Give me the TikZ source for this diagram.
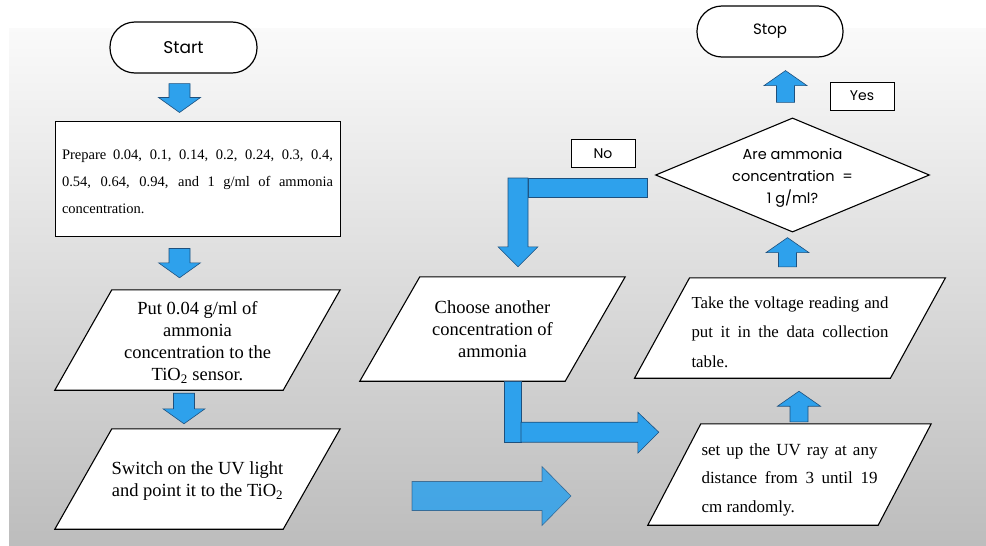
\documentclass[tikz,border=0pt]{standalone}
\usepackage{fontspec}
\setmainfont{Liberation Serif}
\newfontfamily\gothic{Poppins}
\usetikzlibrary{arrows.meta, positioning, shapes.geometric, calc}

\definecolor{arrowblue}{RGB}{46,161,236}
\definecolor{arrowedge}{RGB}{30,80,125}

\pgfdeclarelayer{back}
\pgfdeclarelayer{boxes}
\pgfsetlayers{back,boxes,main}

\tikzset{
  term/.style={draw, line width=1.2pt, fill=white, rounded corners=25pt,
    minimum width=147pt, minimum height=51pt, inner sep=0pt},
  box/.style={draw, line width=1pt, fill=white, inner sep=0pt},
  tag/.style={draw, line width=0.9pt, fill=white, inner sep=0pt,
    minimum width=64pt, minimum height=28pt, font=\gothic\fontsize{14}{16}\selectfont},
  ptext/.style={inner sep=0pt, align=center, font=\fontsize{18.5}{22}\selectfont},
  pline/.style={draw, line width=1.1pt, fill=white, line join=miter},
  blk/.style={fill=arrowblue, draw=arrowedge, line width=0.6pt},
  decide/.style={diamond, draw, line width=1.1pt, fill=white, inner sep=0pt, aspect=2.4,
    minimum width=273pt, minimum height=114pt, align=center,
    font=\gothic\fontsize{14.5}{22}\selectfont}
}

% block arrow down: x, from, to, gap at tail, gap at tip
\newcommand{\dnblk}[5]{%
  \draw[blk] let \p1=(#2.south), \p2=(#3.north) in
    ({#1pt-10.5pt},{\y1-#4pt}) -- ({#1pt+10.5pt},{\y1-#4pt})
    -- ({#1pt+10.5pt},{\y2+#5pt+15pt}) -- ({#1pt+21pt},{\y2+#5pt+15pt})
    -- (#1pt,{\y2+#5pt}) -- ({#1pt-21pt},{\y2+#5pt+15pt})
    -- ({#1pt-10.5pt},{\y2+#5pt+15pt}) -- cycle;}
% block arrow up
\newcommand{\upblk}[5]{%
  \draw[blk] let \p1=(#2.north), \p2=(#3.south) in
    ({#1pt-9pt},{\y1+#4pt}) -- ({#1pt+9pt},{\y1+#4pt})
    -- ({#1pt+9pt},{\y2-#5pt-15pt}) -- ({#1pt+21.5pt},{\y2-#5pt-15pt})
    -- (#1pt,{\y2-#5pt}) -- ({#1pt-21.5pt},{\y2-#5pt-15pt})
    -- ({#1pt-9pt},{\y2-#5pt-15pt}) -- cycle;}
% parallelogram round a text node
\newcommand{\slantbox}[2]{%
  \begin{pgfonlayer}{boxes}
    \draw[pline] ([xshift=#2pt]#1.north west) -- ([xshift=#2pt]#1.north east)
      -- ([xshift=-#2pt]#1.south east) -- ([xshift=-#2pt]#1.south west) -- cycle;
  \end{pgfonlayer}}

\begin{document}
\begin{tikzpicture}[x=1pt,y=-1pt]
  \useasboundingbox (0,0) rectangle (986,546);
  \begin{pgfonlayer}{back}
    \fill[white] (0,0) rectangle (986,546);
    \shade[top color=white!98!black, middle color=white!91!black,
      bottom color=white!74!black] (9,28) rectangle (986,546);
  \end{pgfonlayer}

  % left column
  \node[term, font=\gothic\fontsize{17}{20}\selectfont] (start) at (183.5,47.5) {Start};
  \node[box, minimum width=285pt, minimum height=115pt, text width=271pt, align=justify,
    text depth=47pt, font=\fontsize{14.5}{27}\selectfont] (prep) at (197.5,178.5)
    {Prepare 0.04, 0.1, 0.14, 0.2, 0.24, 0.3, 0.4,\linebreak
     0.54, 0.64, 0.94, and 1 g/ml of ammonia\linebreak
     concentration.};
  \node[ptext, minimum width=228pt, minimum height=100pt, text height=84pt] (put) at (197.5,340)
    {Put 0.04 g/ml of\\ammonia\\concentration to the\\TiO\textsubscript{2} sensor.};
  \slantbox{put}{28.5}
  \node[ptext, minimum width=228pt, minimum height=100pt, text height=39.5pt] (switch) at (197.5,479)
    {Switch on the UV light\\and point it to the TiO\textsubscript{2}};
  \slantbox{switch}{28.5}

  % middle
  \node[ptext, minimum width=205pt, minimum height=104pt] (choose) at (492.5,329)
    {Choose another\\concentration of\\ammonia};
  \slantbox{choose}{30}
  \node[tag] (no) at (603,153.5) {No};

  % right column
  \node[term, minimum width=146pt, font=\gothic\fontsize{15}{18}\selectfont] (stop) at (770,31.5) {Stop};
  \node[tag] (yes) at (862,96) {Yes};
  \node[decide, text height=60pt] (dec) at (792.5,175) {Are ammonia\\concentration \ =\\1 g/ml?};
  \node[ptext, minimum width=255.5pt, minimum height=100pt, text width=197pt, align=justify,
    text depth=51.5pt, font=\fontsize{16.8}{29.5}\selectfont] (take) at (790,328)
    {Take the voltage reading and\linebreak
     put it in the data collection\linebreak
     table.};
  \slantbox{take}{27.5}
  \node[ptext, minimum width=230pt, minimum height=101pt, text width=176pt, align=justify,
    text depth=50.5pt, font=\fontsize{17}{28.5}\selectfont] (setup) at (789.5,474.5)
    {set up the UV ray at any\linebreak
     distance from 3 until 19\linebreak
     cm randomly.};
  \slantbox{setup}{26.5}

  % block arrows
  \dnblk{179.5}{start}{prep}{10}{8}
  \dnblk{179.5}{prep}{put}{12}{12}
  \dnblk{184}{put}{switch}{3}{5}
  \upblk{799}{setup}{take}{2}{13}
  \upblk{787.5}{take}{dec}{11}{5}
  \upblk{785.5}{dec}{stop}{15}{13}

  % no: back to choose
  \draw[blk] let \p1=(dec.west) in (528pt,{\y1-3pt}) rectangle ({\x1-8pt},{\y1-22pt});
  \draw[blk] let \p1=(dec.west), \p2=(choose.north) in
    (508pt,{\y1-3pt}) -- (528pt,{\y1-3pt}) -- (528pt,{\y2+30pt}) -- (538pt,{\y2+30pt})
    -- (518pt,{\y2+10pt}) -- (498pt,{\y2+30pt}) -- (508pt,{\y2+30pt}) -- cycle;

  % choose on to the UV set up
  \draw[blk] let \p1=(choose.south) in (504pt,\y1) rectangle (521pt,{\y1-61pt});
  \draw[blk] let \p1=(choose.south), \p2=(setup.west) in
    (521pt,{\y1-41pt}) -- ({\x2-36.5pt},{\y1-41pt}) -- ({\x2-36.5pt},{\y1-31pt})
    -- ({\x2-15.5pt},{\y1-51pt}) -- ({\x2-36.5pt},{\y1-72pt}) -- ({\x2-36.5pt},{\y1-61pt})
    -- (521pt,{\y1-61pt}) -- cycle;

  % faded arrow
  \coordinate (fa) at (412,496);
  \coordinate (fb) at (571,496);
  \draw[blk, fill opacity=0.85, draw opacity=0.7] let \p1=(fa), \p2=(fb) in
    (\x1,{\y1+14.5pt}) -- ({\x2-29pt},{\y1+14.5pt}) -- ({\x2-29pt},{\y1+29.5pt})
    -- (\p2) -- ({\x2-29pt},{\y1-29.5pt}) -- ({\x2-29pt},{\y1-14.5pt})
    -- (\x1,{\y1-14.5pt}) -- cycle;
\end{tikzpicture}
\end{document}
